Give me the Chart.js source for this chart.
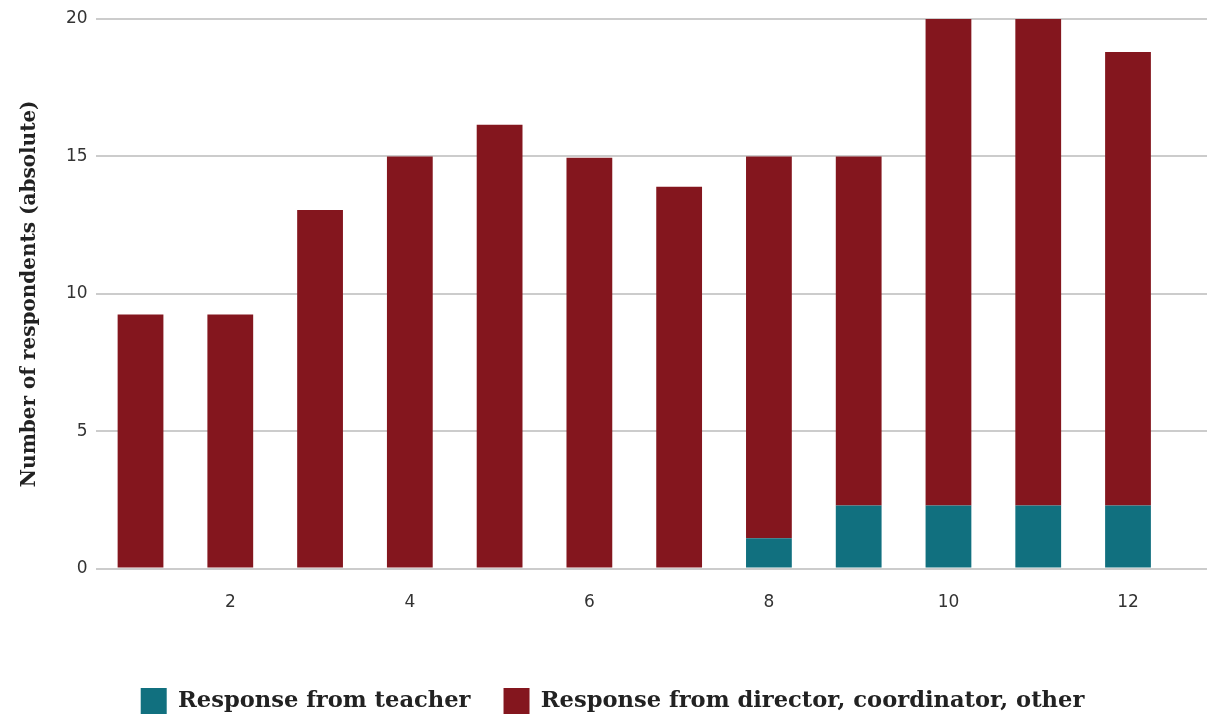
<!DOCTYPE html>
<html>
<head>
<meta charset="utf-8">
<script src="https://cdn.jsdelivr.net/npm/chart.js@4"></script>
<style>
  html, body { margin: 0; padding: 0; background: #fff; }
  #wrap { width: 1207px; height: 718px; }
</style>
</head>
<body>
<div id="wrap"><canvas id="respondentsChart"></canvas></div>
<script>
const categories = [1, 2, 3, 4, 5, 6, 7, 8, 9, 10, 11, 12];
const teacher = [0, 0, 0, 0, 0, 0, 0, 1.1, 2.3, 2.3, 2.3, 2.3];
const director = [9.25, 9.25, 13.05, 15, 16.15, 14.95, 13.9, 13.9, 12.7, 17.7, 17.7, 16.5];
const xTicks = [2, 4, 6, 8, 10, 12];
const yTicks = [0, 5, 10, 15, 20];

const toPoints = values => values.map((v, i) => ({ x: categories[i], y: v }));

const ctx = document.getElementById('respondentsChart').getContext('2d');
new Chart(ctx, {
  type: 'bar',
  data: {
    datasets: [
      {
        label: 'Response from teacher',
        data: toPoints(teacher),
        backgroundColor: '#11707F',
        barPercentage: 0.51,
        categoryPercentage: 1
      },
      {
        label: 'Response from director, coordinator, other',
        data: toPoints(director),
        backgroundColor: '#84161E',
        barPercentage: 0.51,
        categoryPercentage: 1
      }
    ]
  },
  options: {
    responsive: true,
    maintainAspectRatio: false,
    animation: false,
    layout: {
      padding: { top: 19, right: 0, bottom: -6, left: 18 }
    },
    plugins: {
      tooltip: { enabled: false },
      legend: {
        position: 'bottom',
        labels: {
          boxWidth: 26,
          boxHeight: 26,
          padding: 33,
          color: '#222',
          font: { family: 'DejaVu Serif', size: 22.6, weight: 'bold' }
        }
      }
    },
    scales: {
      x: {
        type: 'linear',
        stacked: true,
        offset: false,
        min: 0.5,
        max: 12.88,
        grid: { display: false },
        border: { display: false },
        afterBuildTicks: scale => {
          scale.ticks = xTicks.map(v => ({ value: v }));
        },
        afterFit: scale => {
          scale.height += 26;
        },
        ticks: {
          padding: 16,
          color: '#333',
          maxRotation: 0,
          font: { family: 'DejaVu Sans', size: 17 }
        }
      },
      y: {
        stacked: true,
        min: 0,
        max: 20,
        afterBuildTicks: scale => {
          scale.ticks = yTicks.map(v => ({ value: v }));
        },
        grid: {
          color: '#cccccc',
          lineWidth: 2,
          drawTicks: false
        },
        border: { display: false },
        ticks: {
          padding: 8,
          color: '#333',
          font: { family: 'DejaVu Sans', size: 17 }
        },
        title: {
          display: true,
          text: 'Number of respondents (absolute)',
          color: '#222',
          padding: { top: 0, bottom: 16 },
          font: { family: 'DejaVu Serif', size: 20, weight: 'bold' }
        }
      }
    }
  }
});
</script>
</body>
</html>
